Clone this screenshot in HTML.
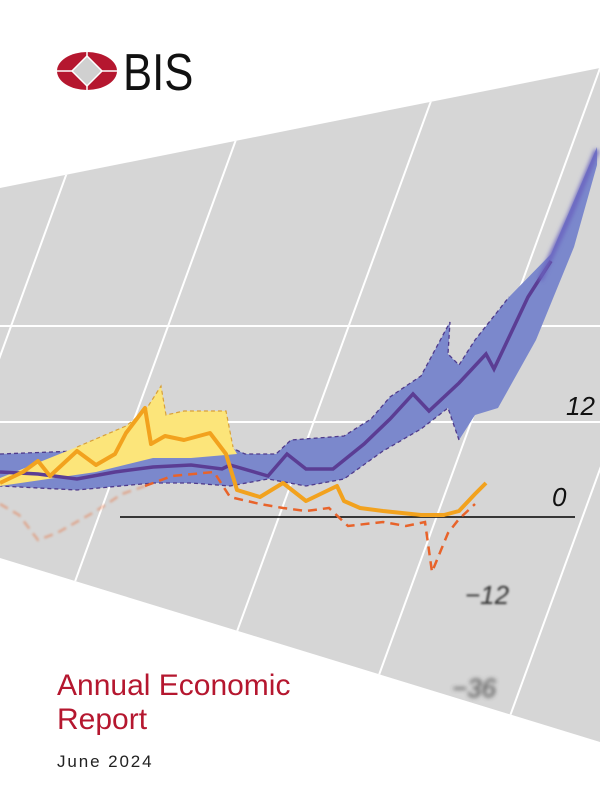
<!DOCTYPE html>
<html><head><meta charset="utf-8"><style>
html,body{margin:0;padding:0;background:#fff;width:600px;height:800px;overflow:hidden}
.t{position:absolute;left:57px;font-family:"Liberation Sans",sans-serif;color:#b5172f;font-size:30px}
</style></head><body>
<svg width="600" height="800" style="position:absolute;left:0;top:0">
<defs>
<clipPath id="c"><polygon points="0,188 600,68 600,742 0,558"/></clipPath>
<filter id="b"><feGaussianBlur stdDeviation="2"/></filter>
<filter id="b2"><feGaussianBlur stdDeviation="1"/></filter>
</defs>
<polygon points="0,188 600,68 600,742 0,558" fill="#d6d6d6"/>
<g clip-path="url(#c)">
<g stroke="#fff" stroke-width="2" fill="none">
<line x1="0" y1="231" x2="600" y2="231" filter="url(#b)" stroke-width="4" opacity="0.8"/>
<line x1="0" y1="143" x2="600" y2="143" filter="url(#b)" stroke-width="4" opacity="0.6"/>
<line x1="0" y1="326" x2="600" y2="326"/>
<line x1="0" y1="422" x2="600" y2="422"/>
<line x1="108" y1="60" x2="-147" y2="760"/>
<line x1="265" y1="60" x2="10" y2="760"/>
<line x1="446" y1="60" x2="190" y2="760"/>
<line x1="603" y1="60" x2="348" y2="760"/>
<line x1="749" y1="60" x2="494" y2="760"/>
</g>
<line x1="0" y1="517" x2="120" y2="517" stroke="#777" stroke-width="3" filter="url(#b2)"/>
<line x1="120" y1="517" x2="575" y2="517" stroke="#000" stroke-width="1.6"/>
<polygon fill="#7b88cc" points="0,454 77,451 153,444 191,451 230,447 245,454 276,454 291,440 344,436 371,419 390,397 406,386 421,376 450,322 448,354 459,365 475,340 498,311 509,297 551,254 597,147 597,165 574,247 536,340 498,408 475,415 459,440 448,408 421,429 383,451 344,479 306,486 268,479 230,486 191,483 153,483 77,490 0,486"/>
<polyline fill="none" stroke="#4f3b8c" stroke-width="1.3" stroke-dasharray="4,3" points="0,454 77,451 153,444 191,451 230,447 245,454 276,454 291,440 344,436 371,419 390,397 406,386 421,376 450,322 448,354 459,365 475,340 498,311 509,297"/>
<polyline fill="none" stroke="#4f3b8c" stroke-width="1.3" stroke-dasharray="4,3" points="459,440 448,408 421,429 383,451 344,479 306,486 268,479 230,486 191,483 153,483 77,490 0,486"/>
<polygon fill="#fce57a" points="0,478 77,447 126,426 145,411 161,386 166,415 184,411 226,411 233,447 237,454 191,458 153,458 96,472 0,486"/>
<polyline fill="none" stroke="#d9a13a" stroke-width="1.2" stroke-dasharray="4,3" points="77,447 126,426 145,411 161,386 166,415 184,411 226,411 233,447"/>
<polyline fill="none" stroke="#5b3d94" stroke-width="3.5" points="0,472 38,474 77,479 115,472 153,467 191,465 222,469 230,465 268,476 287,454 306,469 333,469 364,444 390,419 413,394 429,411 459,383 486,354 494,369 528,297 551,261"/>
<polyline fill="none" stroke="#6a63c0" stroke-width="5" filter="url(#b)" points="540,280 570,215 597,150"/>
<polyline fill="none" stroke="#e8632a" stroke-width="2.5" stroke-dasharray="9,6" opacity="0.4" filter="url(#b2)" points="0,504 19,515 38,540 57,533 96,511 122,494 145,486"/>
<polyline fill="none" stroke="#e8632a" stroke-width="2.5" stroke-dasharray="9,6" points="145,486 172,476 214,472 230,497 260,504 283,508 306,511 329,508 348,526 383,522 406,526 425,522 432,572 448,533 459,519 475,504"/>
<polyline fill="none" stroke="#f2a21e" stroke-width="4" stroke-linejoin="round" points="0,483 23,472 38,461 50,476 77,451 96,465 115,454 126,433 145,408 151,444 165,436 184,440 210,433 226,454 237,490 260,497 283,483 306,501 337,486 344,501 360,508 383,511 421,515 444,515 459,511 475,494 486,483"/>
<g font-family="Liberation Sans,sans-serif" font-style="italic" font-size="26" fill="#111">
<text x="566" y="415">12</text>
<text x="552" y="506">0</text>
<text x="465" y="604" fill="#333" filter="url(#b2)">−12</text>
<text x="452" y="697" fill="#444" filter="url(#b)">−36</text>
</g>
</g>
<ellipse cx="87" cy="71" rx="30" ry="19" fill="#b5172f"/>
<line x1="57" y1="71" x2="117" y2="71" stroke="#fff" stroke-width="1.5"/>
<line x1="87" y1="52" x2="87" y2="90" stroke="#fff" stroke-width="1.5"/>
<polygon points="87,56 102,71 87,86 72,71" fill="#d0d0d0" stroke="#fff" stroke-width="1.5"/>
<text x="123" y="90" font-family="Liberation Sans,sans-serif" font-size="52" fill="#111" transform="translate(123,0) scale(0.84,1) translate(-123,0)">BIS</text>
</svg>
<div class="t" style="top:669px">Annual Economic</div>
<div class="t" style="top:703px">Report</div>
<div class="t" style="top:752px;font-size:17px;color:#222;letter-spacing:1.9px">June 2024</div>
</body></html>
